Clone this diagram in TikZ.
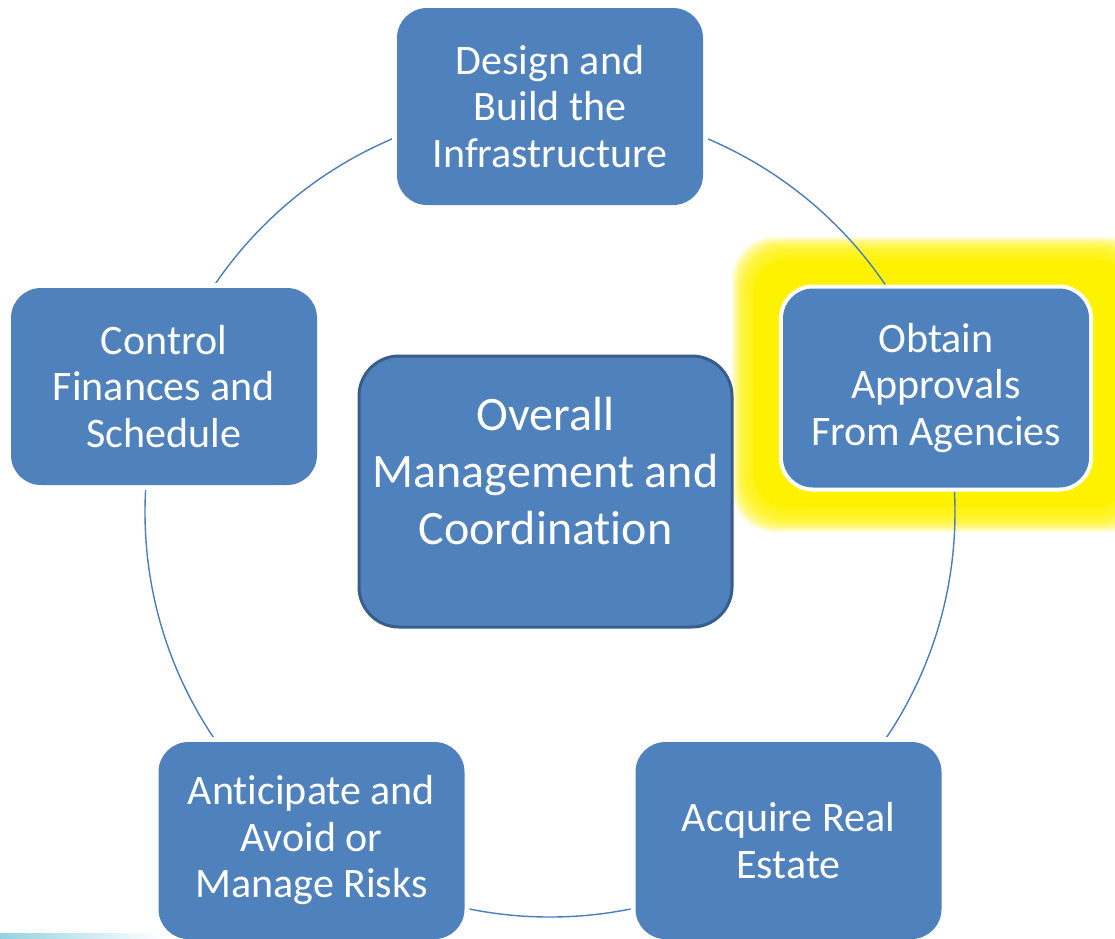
\documentclass[tikz,border=0pt]{standalone}
\usepackage{fontspec}
\setmainfont{Carlito}[RawFeature={-liga;-rlig;-clig;-dlig;-calt}]
\newcommand{\nolig}{\kern0pt }
\definecolor{boxblue}{HTML}{4F81BD}
\definecolor{boxedge}{HTML}{385D8A}
\definecolor{ringblue}{HTML}{4A7EBB}
\definecolor{streak}{RGB}{120,200,215}
\tikzset{
  cyclebox/.style={rounded corners=30pt, fill=boxblue, minimum width=306pt,
    minimum height=197pt, inner sep=0pt, align=center, text=white,
    font=\fontsize{42}{46.5}\selectfont,
    preaction={draw=white, line width=#1}},
  cyclebox/.default=10pt,
  hubbox/.style={rounded corners=40pt, fill=boxblue, draw=boxedge, line width=3pt,
    minimum width=373pt, minimum height=271pt, inner sep=0pt},
  hubtext/.style={align=center, text=white, inner sep=0pt,
    font=\fontsize{48}{57}\selectfont},
  ring/.style={draw=ringblue, line width=1.4pt},
  glowlayer/.style={fill=yellow, opacity=0.11, rounded corners=42pt},
}
\begin{document}
\begin{tikzpicture}[x=1pt, y=-1pt]
\useasboundingbox (0,0) rectangle (1115,938);
\clip (0,0) rectangle (1115,938);
% yellow glow behind the highlighted box
\foreach \e in {1,...,20}
  \fill[glowlayer] ({752-\e},{257-\e}) rectangle ({1130+\e},{512+\e});
\fill[yellow, rounded corners=34pt] (754,259) rectangle (1130,508);
% the cycle ring
\coordinate (ringc) at (550,512);
\draw[ring] (ringc) circle (405pt);
% boxes
\node[cyclebox] (design) at (550,106.5) {Design and\\Build the\\Infrastructure};
\node[cyclebox=8pt, minimum height=199pt] (obtain) at (936,388) {Obtain\\Approvals\\From Agencies};
\node[cyclebox] (acquire) at (788.5,840.5) {Acquire Real\\Estate};
\node[cyclebox] (risks) at (311.5,840.5) {Ant\nolig icipate and\\Avoid or\\Manage Risks};
\node[cyclebox] (control) at (164,386.5) {Control\\Finances and\\Schedule};
\node[hubbox] (hub) at (545.5,491.5) {};
\node[hubtext] (hubtxt) at (545.5,471) {Overall\\Management and\\Coordinat\nolig ion};
% faint streak at the bottom left
\shade[left color=streak, right color=white, opacity=0.8] (0,933) rectangle (160,938);
\end{tikzpicture}
\end{document}
